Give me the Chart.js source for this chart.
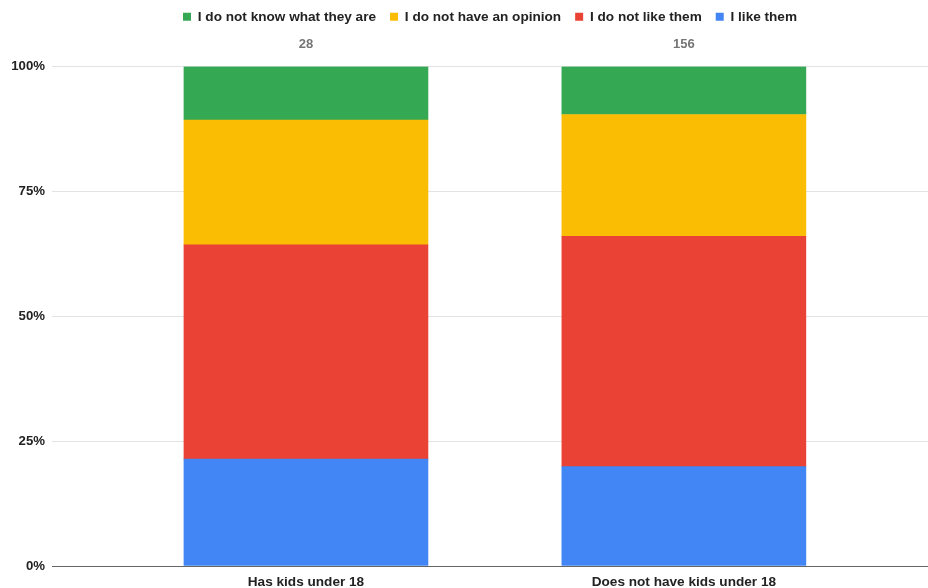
<!DOCTYPE html>
<html>
<head>
<meta charset="utf-8">
<script src="https://cdn.jsdelivr.net/npm/chart.js@4/dist/chart.umd.min.js"></script>
<style>
  html, body { margin: 0; padding: 0; background: #fff; }
  #wrap { width: 928px; height: 588px; }
</style>
</head>
<body>
<div id="wrap"><canvas id="c" width="928" height="588"></canvas></div>
<script>
const categories = ['Has kids under 18', 'Does not have kids under 18'];
const totals = ['28', '156'];
const likeThem = [21.4, 19.9];
const dislikeThem = [42.9, 46.1];
const noOpinion = [25.0, 24.4];
const dontKnow = [10.7, 9.6];
const yTicks = [0, 25, 50, 75, 100];

const FONT = '"Liberation Sans", Arial, sans-serif';

function pts(arr) { return arr.map((v, i) => ({ x: i, y: v })); }

const topLabels = {
  id: 'topLabels',
  afterDatasetsDraw(chart) {
    const ctx = chart.ctx;
    const xs = chart.scales.x;
    ctx.save();
    ctx.font = 'bold 13px ' + FONT;
    ctx.fillStyle = '#757575';
    ctx.textAlign = 'center';
    ctx.textBaseline = 'middle';
    totals.forEach((t, i) => {
      ctx.fillText(t, xs.getPixelForValue(i), chart.chartArea.top - 22);
    });
    ctx.restore();
  }
};

new Chart(document.getElementById('c'), {
  type: 'bar',
  data: {
    datasets: [
      { label: 'I like them', data: pts(likeThem), backgroundColor: '#4285f4' },
      { label: 'I do not like them', data: pts(dislikeThem), backgroundColor: '#ea4335' },
      { label: 'I do not have an opinion', data: pts(noOpinion), backgroundColor: '#fbbc04' },
      { label: 'I do not know what they are', data: pts(dontKnow), backgroundColor: '#34a853' }
    ]
  },
  options: {
    responsive: false,
    animation: false,
    barThickness: 244,
    layout: { padding: { top: -4, left: 0, right: 0, bottom: 0 } },
    plugins: {
      tooltip: { enabled: false },
      legend: {
        reverse: true,
        position: 'top',
        fullSize: false,
        labels: {
          boxWidth: 8, boxHeight: 8,
          padding: 14,
          color: '#222',
          font: { family: FONT, size: 13.6, weight: 'bold' }
        }
      },
      title: {
        display: true,
        text: ' ',
        weight: 500,
        font: { size: 10, lineHeight: 1 },
        padding: { top: 10, bottom: 13 }
      }
    },
    scales: {
      x: {
        type: 'linear',
        stacked: true,
        bounds: 'data',
        offset: false,
        min: -0.672,
        max: 1.646,
        grid: { display: false },
        border: { display: false },
        afterBuildTicks(scale) { scale.ticks = [{ value: 0 }, { value: 1 }]; },
        afterFit(scale) { scale.height = 22; },
        ticks: {
          padding: 0,
          color: '#222',
          font: { family: FONT, size: 13.6, weight: 'bold' },
          callback: (v) => categories[v]
        }
      },
      y: {
        stacked: true,
        min: 0,
        max: 100,
        afterBuildTicks(scale) { scale.ticks = yTicks.map(v => ({ value: v })); },
        afterFit(scale) { scale.width = 52; },
        grid: {
          drawTicks: false,
          color: (c) => c.tick && c.tick.value === 0 ? '#666' : '#e3e3e3'
        },
        border: { display: false },
        ticks: {
          padding: 7,
          color: '#222',
          font: { family: FONT, size: 13.2, weight: 'bold' },
          callback: (v) => v + '%'
        }
      }
    }
  },
  plugins: [topLabels]
});
</script>
</body>
</html>
